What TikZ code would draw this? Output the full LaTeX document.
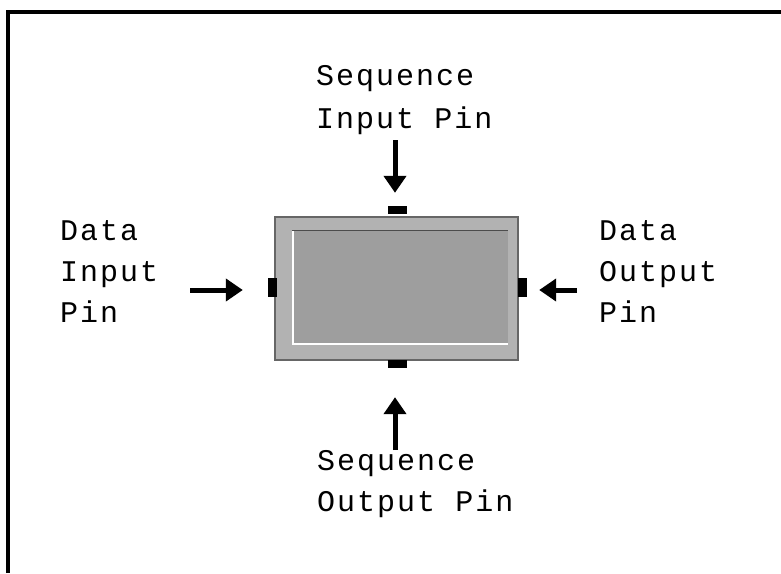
\documentclass[tikz,border=0pt]{standalone}
\usepackage{fontspec}
\newfontfamily\pinfont[LetterSpace=6.7]{Liberation Mono}
\usetikzlibrary{arrows.meta}
\begin{document}
\begin{tikzpicture}[x=1pt,y=-1pt,
  lbl/.style={anchor=base west,inner sep=0pt,font=\pinfont\fontsize{30}{36}\selectfont},
  pinarrow/.style={line width=5pt,-{Triangle[length=17pt,width=22pt]}},
  frameline/.style={line width=4pt}]
\useasboundingbox (0,0) rectangle (781,573);

% clipped outer frame: only the top and left edges
\draw[frameline] (7.5,573) -- (7.5,11.5) -- (781,11.5);

% the object box with its bevelled face
\node[draw=black!60,line width=1.5pt,fill=black!30,minimum width=243pt,minimum height=143pt,inner sep=0pt]
  (obj) at (396.5,288.5) {};
\fill[black!38] (292,230) rectangle (508,344);
\draw[black!70,line width=1pt] (292,230) -- (508,230);
\draw[white,line width=1.2pt] (293,231) -- (293,344) -- (508,344);

% pins
\node[fill=black,inner sep=0pt,minimum width=19pt,minimum height=8pt] (tpin) at (397.5,210) {};
\node[fill=black,inner sep=0pt,minimum width=19pt,minimum height=8pt] (bpin) at (397.5,364) {};
\node[fill=black,inner sep=0pt,minimum width=9pt,minimum height=19pt] (lpin) at (272.5,287.5) {};
\node[fill=black,inner sep=0pt,minimum width=9pt,minimum height=19pt] (rpin) at (522.5,287.5) {};

% labels
\node[lbl] (sinA) at (316,85) {Sequence};
\node[lbl] (sinB) at (316,128) {Input Pin};
\node[lbl] (soutA) at (317,470) {Sequence};
\node[lbl] (soutB) at (317,511) {Output Pin};
\node[lbl] (dinA) at (60,240) {Data};
\node[lbl] (dinB) at (60,281) {Input};
\node[lbl] (dinC) at (60,322) {Pin};
\node[lbl] (doutA) at (599,240) {Data};
\node[lbl] (doutB) at (599,281) {Output};
\node[lbl] (doutC) at (599,322) {Pin};

% arrow tails
\coordinate (sinT) at (395,140);
\coordinate (soutT) at (395,450);
\coordinate (dinT) at (190,290);
\coordinate (doutT) at (577,290);

% arrows pointing at the pins
\draw[pinarrow,shorten >=13pt] (sinT) -- (sinT |- tpin.north);
\draw[pinarrow,shorten >=29pt] (soutT) -- (soutT |- bpin.south);
\draw[pinarrow,shorten >=25pt] (dinT) -- (dinT -| lpin.west);
\draw[pinarrow,shorten >=12pt] (doutT) -- (doutT -| rpin.east);
\end{tikzpicture}
\end{document}
